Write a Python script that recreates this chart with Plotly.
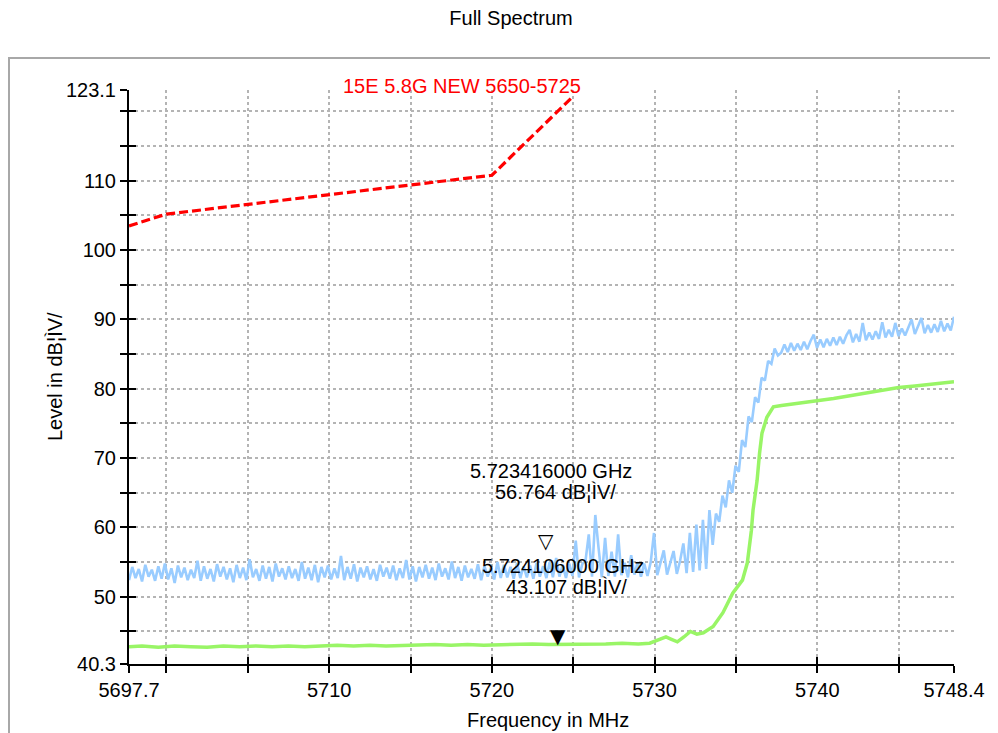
import numpy as np
import plotly.graph_objects as go

# ---------------- data ----------------
SWEEP_START = 5697.7
SWEEP_STOP = 5748.4
LEVEL_MIN = 40.3
LEVEL_MAX = 123.1

# Peak trace (light blue), one reading per sweep point, dBuV/m
BLUE_LEVEL = [
    52.4, 54.3, 52.7, 54.0, 52.2, 54.6, 52.9, 53.9, 52.3, 54.4,
    52.6, 54.8, 52.5, 54.1, 52.0, 54.5, 52.8, 54.2, 52.4, 53.9,
    52.7, 55.2, 52.3, 54.4, 52.6, 54.0, 52.2, 54.7, 52.9, 54.3,
    52.5, 54.1, 52.1, 54.6, 52.7, 54.2, 52.4, 55.4, 52.8, 54.0,
    52.3, 54.5, 52.6, 54.3, 52.2, 54.8, 52.9, 54.1, 52.5, 54.4,
    52.7, 54.0, 52.3, 55.0, 52.6, 54.2, 52.4, 54.6, 52.1, 54.3,
    52.8, 54.5, 52.5, 54.1, 52.7, 55.9, 52.4, 54.3, 52.6, 54.7,
    52.2, 54.2, 52.8, 54.4, 52.5, 54.0, 52.3, 54.6, 52.9, 54.2,
    52.6, 54.5, 52.4, 54.1, 52.7, 55.3, 52.5, 54.4, 52.2, 54.3,
    52.8, 54.6, 52.6, 54.2, 52.4, 54.8, 52.9, 54.1, 52.5, 55.1,
    52.7, 54.3, 52.3, 54.5, 52.8, 54.0, 52.6, 54.7, 52.4, 54.4,
    52.9, 54.2, 52.5, 55.0, 52.7, 54.6, 52.8, 54.3, 52.6, 54.9,
    52.7, 54.4,
    52.8, 54.5, 52.6, 54.9, 52.9, 54.4, 52.7, 55.0, 52.8, 55.6,
    52.9, 54.6, 52.7, 54.8, 53.0, 58.1, 52.8, 54.7, 55.2, 59.0,
    52.9, 61.8, 57.0, 52.8, 58.5, 53.0, 56.5, 52.9, 59.0, 53.1,
    54.9, 52.8, 56.0, 53.2, 55.0, 52.9,
    54.8, 53.0, 55.0, 59.2, 53.1, 55.0, 56.7, 53.2, 55.1, 56.6,
    53.3, 55.2, 57.7, 53.4, 59.2, 53.6, 60.4, 53.8, 61.1, 54.0,
    62.5,
    57.5, 62.0, 60.8, 64.6, 62.9, 66.8, 65.0, 68.9, 68.0, 72.6,
    71.6, 76.0, 75.2, 78.8, 78.0, 81.6, 81.2, 84.0, 83.6, 85.8,
    84.8,
    85.2, 86.4, 85.3, 86.6, 85.5, 86.5, 85.6, 86.8, 85.7, 86.9,
    87.8, 85.9, 87.1, 86.0, 87.2, 86.2, 87.4, 86.3, 87.5, 86.5,
    87.7, 88.5, 86.7, 87.9, 86.8, 89.5, 87.0, 88.1, 87.1, 88.3,
    87.2, 89.6, 87.4, 88.5, 87.5, 89.5, 87.6, 88.7, 87.7, 88.9,
    90.0, 87.9, 89.0, 90.2, 88.0, 89.2, 88.1, 89.3, 88.2, 89.8,
    88.3, 89.4, 88.4, 90.4,
]

# Average trace (green)
GREEN_FREQ = [
    5697.7, 5698.5, 5699.5, 5700.5, 5701.5, 5702.5, 5703.5, 5704.5, 5705.5, 5706.5,
    5707.5, 5708.5, 5709.5, 5710.5, 5711.5, 5712.5, 5713.5, 5714.5, 5715.5, 5716.5,
    5717.5, 5718.5, 5719.5, 5720.5, 5721.5, 5722.5, 5723.5, 5724.1, 5725.0, 5726.0,
    5727.0, 5728.0, 5729.0, 5729.7, 5730.2, 5730.7, 5731.0, 5731.4, 5731.8, 5732.2,
    5732.6, 5733.0, 5733.6, 5734.2, 5734.8, 5735.4, 5735.7, 5735.95, 5736.05, 5736.3,
    5736.45, 5736.6, 5736.9, 5737.3, 5737.8, 5738.5, 5739.2, 5740.0, 5741.0, 5742.0,
    5743.0, 5744.0, 5745.0, 5746.0, 5747.0, 5748.4,
]
GREEN_LEVEL = [
    42.8, 42.9, 42.7, 42.9, 42.8, 42.7, 42.9, 42.8, 42.9, 42.8,
    42.9, 42.8, 42.9, 43.0, 42.9, 43.0, 42.9, 43.0, 43.0, 43.1,
    43.0, 43.1, 43.0, 43.1, 43.1, 43.2, 43.1, 43.1, 43.2, 43.1,
    43.2, 43.3, 43.2, 43.3, 43.8, 44.2, 43.9, 43.5, 44.2, 45.0,
    44.6, 44.8, 45.7, 47.7, 50.5, 52.4, 54.9, 59.6, 62.5, 66.8,
    70.7, 73.6, 75.9, 77.4, 77.6, 77.8, 78.0, 78.3, 78.6, 79.0,
    79.4, 79.8, 80.2, 80.4, 80.7, 81.0,
]

# Limit line "15E 5.8G NEW 5650-5725"
LIMIT_NAME = "15E 5.8G NEW 5650-5725"
LIMIT_FREQ = [5697.7, 5700.0, 5720.0, 5725.0]
LIMIT_LEVEL = [103.5, 105.2, 110.8, 122.2]

# Markers
MARK_FREQ = [5723.416, 5724.106]
MARK_LEVEL = [56.764, 43.107]
MARK_GLYPH = ["\u25BD", "\u25BC"]
MARK_LINE1 = ["5.723416000 GHz", "5.724106000 GHz"]
MARK_LINE2 = ["56.764 dB\u00a6\u00ccV/", "43.107 dB\u00a6\u00ccV/"]

# Axes ticks
X_TICKS = [5697.7, 5700, 5705, 5710, 5715, 5720, 5725, 5730, 5735, 5740, 5745, 5748.4]
X_LABELS = ["5697.7", "", "", "5710", "", "5720", "", "5730", "", "5740", "", "5748.4"]
Y_TICKS = [40.3, 45, 50, 55, 60, 65, 70, 75, 80, 85, 90, 95, 100, 105, 110, 115, 120, 123.1]
Y_LABELS = ["40.3", "", "50", "", "60", "", "70", "", "80", "", "90", "", "100", "", "110", "", "", "123.1"]

TITLE = "Full Spectrum"
X_TITLE = "Frequency in MHz"
Y_TITLE = "Level in dB\u00a6\u00ccV/"

# ---------------- figure ----------------
FONT = "Liberation Sans, Arial, sans-serif"
FS = 20
blue_freq = np.linspace(SWEEP_START, SWEEP_STOP, len(BLUE_LEVEL))

fig = go.Figure()
fig.add_trace(go.Scatter(x=blue_freq, y=BLUE_LEVEL, mode="lines",
                         line=dict(color="#99ccff", width=2.6), hoverinfo="skip"))
fig.add_trace(go.Scatter(x=GREEN_FREQ, y=GREEN_LEVEL, mode="lines",
                         line=dict(color="#99f566", width=3.5), hoverinfo="skip"))
fig.add_trace(go.Scatter(x=LIMIT_FREQ, y=LIMIT_LEVEL, mode="lines",
                         line=dict(color="#ff0000", width=3.2, dash="9px,4px"), hoverinfo="skip"))
# dummy trace for the inner half of the crossing ticks
fig.add_trace(go.Scatter(x=[None], y=[None], xaxis="x2", yaxis="y2", mode="lines",
                         hoverinfo="skip"))

axis_common = dict(showline=True, linecolor="black", linewidth=2, zeroline=False,
                   ticks="outside", ticklen=7, tickwidth=2, tickcolor="black",
                   showgrid=True, gridcolor="#b4b4b4", gridwidth=1.5, griddash="dot",
                   automargin=False,
                   tickfont=dict(family=FONT, size=FS, color="black"))

# page has an 8px body margin: figure is drawn at (8, 8)
W, H = 990, 725
PL, PR, PT, PB = 121, 44, 82, 69
plot_w = W - PL - PR
plot_h = H - PT - PB

fig.update_layout(
    width=W, height=H,
    margin=dict(l=PL, r=PR, t=PT, b=PB, autoexpand=False),
    paper_bgcolor="white", plot_bgcolor="white",
    showlegend=False,
    title=dict(text=TITLE, x=503 / W, xanchor="center", y=1 - 10 / H, yanchor="middle",
               font=dict(family=FONT, size=FS, color="black")),
    xaxis=dict(range=[SWEEP_START, SWEEP_STOP], tickmode="array", tickvals=X_TICKS,
               ticktext=X_LABELS, **axis_common),
    yaxis=dict(range=[LEVEL_MIN, LEVEL_MAX], tickmode="array", tickvals=Y_TICKS,
               ticktext=Y_LABELS, **axis_common),
    xaxis2=dict(range=[SWEEP_START, SWEEP_STOP], overlaying="x", anchor="y2",
                tickmode="array", tickvals=X_TICKS, showticklabels=False, automargin=False,
                ticks="inside", ticklen=7, tickwidth=2, tickcolor="black",
                showgrid=False, zeroline=False, showline=False, side="bottom"),
    yaxis2=dict(range=[LEVEL_MIN, LEVEL_MAX], overlaying="y", anchor="x2",
                tickmode="array", tickvals=Y_TICKS, showticklabels=False, automargin=False,
                ticks="inside", ticklen=7, tickwidth=2, tickcolor="black",
                showgrid=False, zeroline=False, showline=False, side="left"),
)

# axis titles
fig.add_annotation(xref="paper", yref="paper", x=(540 - PL) / plot_w, y=-(712 - (H - PB)) / plot_h,
                   text=X_TITLE, showarrow=False, xanchor="center", yanchor="middle",
                   font=dict(family=FONT, size=FS, color="black"))
fig.add_annotation(xref="paper", yref="paper", x=(47 - PL) / plot_w, y=0.5,
                   text=Y_TITLE, textangle=-90, showarrow=False, xanchor="center",
                   yanchor="middle", font=dict(family=FONT, size=FS, color="black"))

# outer grey frame
fig.add_shape(type="rect", xref="paper", yref="paper",
              x0=(1 - PL) / plot_w, x1=1.2, y0=-0.3, y1=(H - PB - 50) / plot_h,
              line=dict(color="#a8a8a8", width=2), fillcolor="rgba(0,0,0,0)", layer="below")

# limit label
fig.add_annotation(x=LIMIT_FREQ[-1], y=LIMIT_LEVEL[-1], xref="x", yref="y",
                   text=LIMIT_NAME, showarrow=False, xanchor="right", yanchor="middle",
                   xshift=10, yshift=10,
                   font=dict(family=FONT, size=FS, color="#ff0000"))

# markers and their readouts
for f, lv, g, t1, t2 in zip(MARK_FREQ, MARK_LEVEL, MARK_GLYPH, MARK_LINE1, MARK_LINE2):
    fig.add_annotation(x=f, y=lv, xref="x", yref="y", text=g, showarrow=False,
                       xanchor="center", yanchor="bottom", yshift=-5, xshift=-1,
                       font=dict(family="DejaVu Sans", size=20, color="black"))
    fig.add_annotation(x=f, y=lv, xref="x", yref="y", text=t1, showarrow=False,
                       xanchor="center", yanchor="middle", yshift=79, xshift=4,
                       font=dict(family=FONT, size=FS, color="black"))
    fig.add_annotation(x=f, y=lv, xref="x", yref="y", text=t2, showarrow=False,
                       xanchor="center", yanchor="middle", yshift=58, xshift=8,
                       font=dict(family=FONT, size=FS, color="black"))

fig.write_html("out.html")
